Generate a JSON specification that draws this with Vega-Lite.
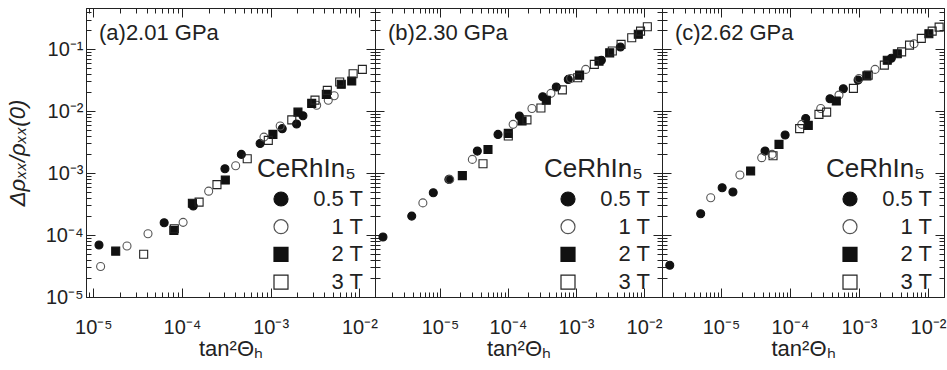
{
  "$schema": "https://vega.github.io/schema/vega-lite/v6.json",
  "padding": {"left": 5, "top": 7, "right": 0, "bottom": 0},
  "background": "white",
  "spacing": 0,
  "bounds": "flush",
  "config": {
    "font": "Liberation Sans",
    "view": {"stroke": "#222", "strokeWidth": 1},
    "axis": {"grid": false, "domainColor": "#222", "domainWidth": 1, "tickColor": "#222", "tickWidth": 1, "labelColor": "#222", "labelFont": "Liberation Sans", "titleFont": "Liberation Sans", "titleFontSize": 22, "titleFontWeight": "normal", "titleColor": "#222", "labelOverlap": false, "labelFlush": false, "labelBound": false, "minExtent": 0},
    "legend": {"orient": "none", "legendY": 148, "padding": 0, "titleFontSize": 26, "titleFontWeight": "normal", "titleColor": "#222", "titleAnchor": "start", "labelFontSize": 22, "labelColor": "#222", "symbolSize": 196, "symbolStrokeWidth": 1.2, "labelAlign": "right", "labelOffset": 71, "rowPadding": 5.7, "titlePadding": 6, "symbolOffset": 13}
  },
  "datasets": {
    "pts": [
      {"p": "a", "B": "0.5 T", "x": 1.16e-5, "y": 6.9e-5},
      {"p": "a", "B": "0.5 T", "x": 6.3e-5, "y": 1.58e-4},
      {"p": "a", "B": "0.5 T", "x": 1.34e-4, "y": 2.94e-4},
      {"p": "a", "B": "0.5 T", "x": 3.05e-4, "y": 1.17e-3},
      {"p": "a", "B": "0.5 T", "x": 4.67e-4, "y": 2.0e-3},
      {"p": "a", "B": "0.5 T", "x": 7.6e-4, "y": 3.0e-3},
      {"p": "a", "B": "0.5 T", "x": 1.35e-3, "y": 5.2e-3},
      {"p": "a", "B": "0.5 T", "x": 1.96e-3, "y": 6.2e-3},
      {"p": "a", "B": "0.5 T", "x": 2.31e-3, "y": 8.4e-3},
      {"p": "a", "B": "1 T", "x": 1.21e-5, "y": 3.1e-5},
      {"p": "a", "B": "1 T", "x": 2.4e-5, "y": 6.65e-5},
      {"p": "a", "B": "1 T", "x": 4.14e-5, "y": 1.05e-4},
      {"p": "a", "B": "1 T", "x": 1.03e-4, "y": 1.6e-4},
      {"p": "a", "B": "1 T", "x": 2.0e-4, "y": 5.1e-4},
      {"p": "a", "B": "1 T", "x": 4.03e-4, "y": 1.31e-3},
      {"p": "a", "B": "1 T", "x": 8.4e-4, "y": 3.8e-3},
      {"p": "a", "B": "1 T", "x": 1.28e-3, "y": 5.75e-3},
      {"p": "a", "B": "1 T", "x": 3.3e-3, "y": 1.24e-2},
      {"p": "a", "B": "1 T", "x": 4.46e-3, "y": 1.49e-2},
      {"p": "a", "B": "1 T", "x": 5.2e-3, "y": 1.77e-2},
      {"p": "a", "B": "2 T", "x": 1.79e-5, "y": 5.5e-5},
      {"p": "a", "B": "2 T", "x": 8.1e-5, "y": 1.19e-4},
      {"p": "a", "B": "2 T", "x": 1.31e-4, "y": 3.25e-4},
      {"p": "a", "B": "2 T", "x": 3.08e-4, "y": 7.7e-4},
      {"p": "a", "B": "2 T", "x": 1.06e-3, "y": 4.2e-3},
      {"p": "a", "B": "2 T", "x": 2.03e-3, "y": 9.6e-3},
      {"p": "a", "B": "2 T", "x": 2.9e-3, "y": 1.33e-2},
      {"p": "a", "B": "2 T", "x": 4.24e-3, "y": 1.86e-2},
      {"p": "a", "B": "2 T", "x": 6.25e-3, "y": 2.7e-2},
      {"p": "a", "B": "2 T", "x": 8.2e-3, "y": 3.05e-2},
      {"p": "a", "B": "3 T", "x": 3.7e-5, "y": 4.9e-5},
      {"p": "a", "B": "3 T", "x": 8.2e-5, "y": 1.26e-4},
      {"p": "a", "B": "3 T", "x": 1.56e-4, "y": 3.4e-4},
      {"p": "a", "B": "3 T", "x": 2.48e-4, "y": 6.5e-4},
      {"p": "a", "B": "3 T", "x": 5.44e-4, "y": 1.7e-3},
      {"p": "a", "B": "3 T", "x": 9.4e-4, "y": 3.37e-3},
      {"p": "a", "B": "3 T", "x": 1.73e-3, "y": 7.2e-3},
      {"p": "a", "B": "3 T", "x": 3.16e-3, "y": 1.5e-2},
      {"p": "a", "B": "3 T", "x": 4.35e-3, "y": 2.16e-2},
      {"p": "a", "B": "3 T", "x": 6.0e-3, "y": 2.94e-2},
      {"p": "a", "B": "3 T", "x": 8.5e-3, "y": 4.0e-2},
      {"p": "a", "B": "3 T", "x": 1.08e-2, "y": 4.7e-2},

      {"p": "b", "B": "0.5 T", "x": 1.45e-6, "y": 9.3e-5},
      {"p": "b", "B": "0.5 T", "x": 3.84e-6, "y": 2.02e-4},
      {"p": "b", "B": "0.5 T", "x": 7.97e-6, "y": 4.8e-4},
      {"p": "b", "B": "0.5 T", "x": 1.35e-5, "y": 7.9e-4},
      {"p": "b", "B": "0.5 T", "x": 3.54e-5, "y": 2.26e-3},
      {"p": "b", "B": "0.5 T", "x": 7.13e-5, "y": 4.2e-3},
      {"p": "b", "B": "0.5 T", "x": 1.47e-4, "y": 8.3e-3},
      {"p": "b", "B": "0.5 T", "x": 3.24e-4, "y": 1.7e-2},
      {"p": "b", "B": "0.5 T", "x": 5.13e-4, "y": 2.44e-2},
      {"p": "b", "B": "0.5 T", "x": 7.7e-4, "y": 3.24e-2},
      {"p": "b", "B": "0.5 T", "x": 2.36e-3, "y": 6.6e-2},
      {"p": "b", "B": "0.5 T", "x": 4.5e-3, "y": 0.108},
      {"p": "b", "B": "1 T", "x": 5.6e-6, "y": 3.3e-4},
      {"p": "b", "B": "1 T", "x": 1.39e-5, "y": 7.9e-4},
      {"p": "b", "B": "1 T", "x": 2.99e-5, "y": 1.66e-3},
      {"p": "b", "B": "1 T", "x": 1.19e-4, "y": 6.1e-3},
      {"p": "b", "B": "1 T", "x": 2.25e-4, "y": 1.1e-2},
      {"p": "b", "B": "1 T", "x": 4.28e-4, "y": 1.93e-2},
      {"p": "b", "B": "1 T", "x": 8.35e-4, "y": 3.36e-2},
      {"p": "b", "B": "1 T", "x": 1.39e-3, "y": 4.7e-2},
      {"p": "b", "B": "2 T", "x": 2.13e-5, "y": 9.1e-4},
      {"p": "b", "B": "2 T", "x": 5.08e-5, "y": 2.4e-3},
      {"p": "b", "B": "2 T", "x": 1.01e-4, "y": 4.37e-3},
      {"p": "b", "B": "2 T", "x": 1.61e-4, "y": 6.9e-3},
      {"p": "b", "B": "2 T", "x": 3.66e-4, "y": 1.49e-2},
      {"p": "b", "B": "2 T", "x": 1.13e-3, "y": 3.8e-2},
      {"p": "b", "B": "2 T", "x": 2.18e-3, "y": 6.4e-2},
      {"p": "b", "B": "2 T", "x": 3.13e-3, "y": 8.7e-2},
      {"p": "b", "B": "2 T", "x": 8.25e-3, "y": 0.173},
      {"p": "b", "B": "3 T", "x": 4.29e-5, "y": 1.41e-3},
      {"p": "b", "B": "3 T", "x": 1.01e-4, "y": 3.96e-3},
      {"p": "b", "B": "3 T", "x": 1.9e-4, "y": 7.2e-3},
      {"p": "b", "B": "3 T", "x": 3.05e-4, "y": 1.12e-2},
      {"p": "b", "B": "3 T", "x": 6.3e-4, "y": 2.2e-2},
      {"p": "b", "B": "3 T", "x": 1.06e-3, "y": 3.44e-2},
      {"p": "b", "B": "3 T", "x": 1.86e-3, "y": 5.66e-2},
      {"p": "b", "B": "3 T", "x": 3.42e-3, "y": 9.3e-2},
      {"p": "b", "B": "3 T", "x": 4.6e-3, "y": 0.119},
      {"p": "b", "B": "3 T", "x": 6.6e-3, "y": 0.152},
      {"p": "b", "B": "3 T", "x": 8.9e-3, "y": 0.195},
      {"p": "b", "B": "3 T", "x": 1.12e-2, "y": 0.229},

      {"p": "c", "B": "0.5 T", "x": 1.81e-6, "y": 3.25e-5},
      {"p": "c", "B": "0.5 T", "x": 5.08e-6, "y": 2.2e-4},
      {"p": "c", "B": "0.5 T", "x": 1.04e-5, "y": 5.8e-4},
      {"p": "c", "B": "0.5 T", "x": 1.49e-5, "y": 4.94e-4},
      {"p": "c", "B": "0.5 T", "x": 4.35e-5, "y": 2.26e-3},
      {"p": "c", "B": "0.5 T", "x": 8.5e-5, "y": 4.1e-3},
      {"p": "c", "B": "0.5 T", "x": 1.69e-4, "y": 7.6e-3},
      {"p": "c", "B": "0.5 T", "x": 3.8e-4, "y": 1.58e-2},
      {"p": "c", "B": "0.5 T", "x": 5.93e-4, "y": 2.29e-2},
      {"p": "c", "B": "0.5 T", "x": 9.7e-4, "y": 3.16e-2},
      {"p": "c", "B": "0.5 T", "x": 2.94e-3, "y": 7.1e-2},
      {"p": "c", "B": "1 T", "x": 7.1e-6, "y": 4.0e-4},
      {"p": "c", "B": "1 T", "x": 1.88e-5, "y": 9.3e-4},
      {"p": "c", "B": "1 T", "x": 3.89e-5, "y": 1.77e-3},
      {"p": "c", "B": "1 T", "x": 5.5e-5, "y": 2.0e-3},
      {"p": "c", "B": "1 T", "x": 1.48e-4, "y": 6.1e-3},
      {"p": "c", "B": "1 T", "x": 2.79e-4, "y": 1.1e-2},
      {"p": "c", "B": "1 T", "x": 5.13e-4, "y": 1.81e-2},
      {"p": "c", "B": "1 T", "x": 1.0e-3, "y": 3.36e-2},
      {"p": "c", "B": "1 T", "x": 1.71e-3, "y": 4.7e-2},
      {"p": "c", "B": "1 T", "x": 6.27e-3, "y": 0.122},
      {"p": "c", "B": "2 T", "x": 2.69e-5, "y": 1.08e-3},
      {"p": "c", "B": "2 T", "x": 6.93e-5, "y": 2.9e-3},
      {"p": "c", "B": "2 T", "x": 1.84e-4, "y": 5.87e-3},
      {"p": "c", "B": "2 T", "x": 4.69e-4, "y": 1.45e-2},
      {"p": "c", "B": "2 T", "x": 1.3e-3, "y": 3.7e-2},
      {"p": "c", "B": "2 T", "x": 2.57e-3, "y": 6.6e-2},
      {"p": "c", "B": "2 T", "x": 3.59e-3, "y": 8.4e-2},
      {"p": "c", "B": "2 T", "x": 1.03e-2, "y": 0.177},
      {"p": "c", "B": "3 T", "x": 5.68e-5, "y": 1.9e-3},
      {"p": "c", "B": "3 T", "x": 1.38e-4, "y": 5.2e-3},
      {"p": "c", "B": "3 T", "x": 2.63e-4, "y": 8.85e-3},
      {"p": "c", "B": "3 T", "x": 3.4e-4, "y": 9.6e-3},
      {"p": "c", "B": "3 T", "x": 8.3e-4, "y": 2.32e-2},
      {"p": "c", "B": "3 T", "x": 1.36e-3, "y": 3.8e-2},
      {"p": "c", "B": "3 T", "x": 2.33e-3, "y": 5.5e-2},
      {"p": "c", "B": "3 T", "x": 4.15e-3, "y": 9.0e-2},
      {"p": "c", "B": "3 T", "x": 5.4e-3, "y": 0.116},
      {"p": "c", "B": "3 T", "x": 8.0e-3, "y": 0.149},
      {"p": "c", "B": "3 T", "x": 1.15e-2, "y": 0.195},
      {"p": "c", "B": "3 T", "x": 1.45e-2, "y": 0.226}
    ]
  },
  "resolve": {
    "scale": {"shape": "independent", "fill": "independent", "stroke": "independent"},
    "legend": {"shape": "independent", "fill": "independent", "stroke": "independent"}
  },
  "hconcat": [
    {
      "width": 289, "height": 289,
      "resolve": {"axis": {"x": "independent", "y": "independent"}},
      "layer": [
        {
          "data": {"name": "pts"},
          "transform": [{"filter": "datum.p == 'a'"}],
          "mark": {"type": "point", "filled": true, "opacity": 1, "size": 64, "strokeWidth": 1.1},
          "encoding": {
            "x": {"field": "x", "type": "quantitative", "scale": {"type": "log", "domain": [8.28e-6, 0.015], "nice": false}, "axis": {"orient": "bottom", "title": "tan²Θₕ", "tickCount": 30, "tickSize": {"condition": {"test": "abs(log(datum.value)/LN10-round(log(datum.value)/LN10))<0.01", "value": -9}, "value": -5}, "labelFontSize": {"condition": {"test": "abs(log(datum.value)/LN10-round(log(datum.value)/LN10))>0.01", "value": 0}, "value": 20}, "labelPadding": 29, "titlePadding": 1, "labelExpr": "abs(log(datum.value)/LN10-round(log(datum.value)/LN10))>0.01?'':round(log(datum.value)/LN10)==-1?'10⁻¹':round(log(datum.value)/LN10)==-2?'10⁻²':round(log(datum.value)/LN10)==-3?'10⁻³':round(log(datum.value)/LN10)==-4?'10⁻⁴':round(log(datum.value)/LN10)==-5?'10⁻⁵':'10⁻⁶'"}},
            "y": {"field": "y", "type": "quantitative", "scale": {"type": "log", "domain": [1e-5, 0.46], "nice": false}, "axis": {"orient": "left", "title": "Δρₓₓ/ρₓₓ(0)", "titleFontStyle": "italic", "tickCount": 30, "tickSize": {"condition": {"test": "abs(log(datum.value)/LN10-round(log(datum.value)/LN10))<0.01", "value": -9}, "value": -5}, "labelFontSize": {"condition": {"test": "abs(log(datum.value)/LN10-round(log(datum.value)/LN10))>0.01", "value": 0}, "value": 20}, "labelPadding": 12, "titlePadding": 16, "labelExpr": "abs(log(datum.value)/LN10-round(log(datum.value)/LN10))>0.01?'':round(log(datum.value)/LN10)==-1?'10⁻¹':round(log(datum.value)/LN10)==-2?'10⁻²':round(log(datum.value)/LN10)==-3?'10⁻³':round(log(datum.value)/LN10)==-4?'10⁻⁴':round(log(datum.value)/LN10)==-5?'10⁻⁵':'10⁻⁶'"}},
            "shape": {"field": "B", "type": "nominal", "title": "CeRhIn₅", "legend": {"legendX": 171}, "scale": {"domain": ["0.5 T", "1 T", "2 T", "3 T"], "range": ["circle", "circle", "square", "square"]}},
            "fill": {"field": "B", "type": "nominal", "title": "CeRhIn₅", "legend": {"legendX": 171}, "scale": {"domain": ["0.5 T", "1 T", "2 T", "3 T"], "range": ["#111111", "transparent", "#111111", "transparent"]}},
            "stroke": {"field": "B", "type": "nominal", "title": "CeRhIn₅", "legend": {"legendX": 171}, "scale": {"domain": ["0.5 T", "1 T", "2 T", "3 T"], "range": ["#111111", "#555555", "#111111", "#222222"]}}
          }
        },
        {
          "data": {"name": "pts"},
          "transform": [{"filter": "datum.p == 'a'"}],
          "mark": {"type": "point", "opacity": 0},
          "encoding": {
            "x": {"field": "x", "type": "quantitative", "scale": {"type": "log", "domain": [8.28e-6, 0.015], "nice": false}, "axis": {"orient": "top", "labels": false, "title": null, "tickCount": 30, "tickSize": {"condition": {"test": "abs(log(datum.value)/LN10-round(log(datum.value)/LN10))<0.01", "value": -9}, "value": -5}}},
            "y": {"field": "y", "type": "quantitative", "scale": {"type": "log", "domain": [1e-5, 0.46], "nice": false}, "axis": {"orient": "right", "labels": false, "title": null, "tickCount": 30, "tickSize": {"condition": {"test": "abs(log(datum.value)/LN10-round(log(datum.value)/LN10))<0.01", "value": -9}, "value": -5}}}
          }
        },
        {
          "data": {"values": [{"label": "(a)2.01 GPa"}]},
          "mark": {"type": "text", "align": "left", "baseline": "alphabetic", "fontSize": 22, "font": "Liberation Sans", "color": "#222"},
          "encoding": {
            "x": {"datum": 1.16e-5, "type": "quantitative", "axis": null},
            "y": {"datum": 0.14, "type": "quantitative", "axis": null},
            "text": {"field": "label"}
          }
        }
      ]
    },
    {
      "width": 287, "height": 289,
      "resolve": {"axis": {"x": "independent", "y": "independent"}},
      "layer": [
        {
          "data": {"name": "pts"},
          "transform": [{"filter": "datum.p == 'b'"}],
          "mark": {"type": "point", "filled": true, "opacity": 1, "size": 64, "strokeWidth": 1.1},
          "encoding": {
            "x": {"field": "x", "type": "quantitative", "scale": {"type": "log", "domain": [1.107e-6, 0.0184], "nice": false}, "axis": {"orient": "bottom", "title": "tan²Θₕ", "tickCount": 30, "tickSize": {"condition": {"test": "abs(log(datum.value)/LN10-round(log(datum.value)/LN10))<0.01", "value": -9}, "value": -5}, "labelFontSize": {"condition": {"test": "abs(log(datum.value)/LN10-round(log(datum.value)/LN10))>0.01", "value": 0}, "value": 20}, "labelPadding": 29, "titlePadding": 1, "labelExpr": "abs(log(datum.value)/LN10-round(log(datum.value)/LN10))>0.01?'':round(log(datum.value)/LN10)==-1?'10⁻¹':round(log(datum.value)/LN10)==-2?'10⁻²':round(log(datum.value)/LN10)==-3?'10⁻³':round(log(datum.value)/LN10)==-4?'10⁻⁴':round(log(datum.value)/LN10)==-5?'10⁻⁵':'10⁻⁶'"}},
            "y": {"field": "y", "type": "quantitative", "scale": {"type": "log", "domain": [1e-5, 0.46], "nice": false}, "axis": {"orient": "left", "labels": false, "title": null, "tickCount": 30, "tickSize": {"condition": {"test": "abs(log(datum.value)/LN10-round(log(datum.value)/LN10))<0.01", "value": -9}, "value": -5}}},
            "shape": {"field": "B", "type": "nominal", "title": "CeRhIn₅", "legend": {"legendX": 169}, "scale": {"domain": ["0.5 T", "1 T", "2 T", "3 T"], "range": ["circle", "circle", "square", "square"]}},
            "fill": {"field": "B", "type": "nominal", "title": "CeRhIn₅", "legend": {"legendX": 169}, "scale": {"domain": ["0.5 T", "1 T", "2 T", "3 T"], "range": ["#111111", "transparent", "#111111", "transparent"]}},
            "stroke": {"field": "B", "type": "nominal", "title": "CeRhIn₅", "legend": {"legendX": 169}, "scale": {"domain": ["0.5 T", "1 T", "2 T", "3 T"], "range": ["#111111", "#555555", "#111111", "#222222"]}}
          }
        },
        {
          "data": {"name": "pts"},
          "transform": [{"filter": "datum.p == 'b'"}],
          "mark": {"type": "point", "opacity": 0},
          "encoding": {
            "x": {"field": "x", "type": "quantitative", "scale": {"type": "log", "domain": [1.107e-6, 0.0184], "nice": false}, "axis": {"orient": "top", "labels": false, "title": null, "tickCount": 30, "tickSize": {"condition": {"test": "abs(log(datum.value)/LN10-round(log(datum.value)/LN10))<0.01", "value": -9}, "value": -5}}},
            "y": {"field": "y", "type": "quantitative", "scale": {"type": "log", "domain": [1e-5, 0.46], "nice": false}, "axis": {"orient": "right", "labels": false, "title": null, "tickCount": 30, "tickSize": {"condition": {"test": "abs(log(datum.value)/LN10-round(log(datum.value)/LN10))<0.01", "value": -9}, "value": -5}}}
          }
        },
        {
          "data": {"values": [{"label": "(b)2.30 GPa"}]},
          "mark": {"type": "text", "align": "left", "baseline": "alphabetic", "fontSize": 22, "font": "Liberation Sans", "color": "#222"},
          "encoding": {
            "x": {"datum": 1.72e-6, "type": "quantitative", "axis": null},
            "y": {"datum": 0.14, "type": "quantitative", "axis": null},
            "text": {"field": "label"}
          }
        }
      ]
    },
    {
      "width": 282, "height": 289,
      "resolve": {"axis": {"x": "independent", "y": "independent"}},
      "layer": [
        {
          "data": {"name": "pts"},
          "transform": [{"filter": "datum.p == 'c'"}],
          "mark": {"type": "point", "filled": true, "opacity": 1, "size": 64, "strokeWidth": 1.1},
          "encoding": {
            "x": {"field": "x", "type": "quantitative", "scale": {"type": "log", "domain": [1.397e-6, 0.01706], "nice": false}, "axis": {"orient": "bottom", "title": "tan²Θₕ", "tickCount": 30, "tickSize": {"condition": {"test": "abs(log(datum.value)/LN10-round(log(datum.value)/LN10))<0.01", "value": -9}, "value": -5}, "labelFontSize": {"condition": {"test": "abs(log(datum.value)/LN10-round(log(datum.value)/LN10))>0.01", "value": 0}, "value": 20}, "labelPadding": 29, "titlePadding": 1, "labelExpr": "abs(log(datum.value)/LN10-round(log(datum.value)/LN10))>0.01?'':round(log(datum.value)/LN10)==-1?'10⁻¹':round(log(datum.value)/LN10)==-2?'10⁻²':round(log(datum.value)/LN10)==-3?'10⁻³':round(log(datum.value)/LN10)==-4?'10⁻⁴':round(log(datum.value)/LN10)==-5?'10⁻⁵':'10⁻⁶'"}},
            "y": {"field": "y", "type": "quantitative", "scale": {"type": "log", "domain": [1e-5, 0.46], "nice": false}, "axis": {"orient": "left", "labels": false, "title": null, "tickCount": 30, "tickSize": {"condition": {"test": "abs(log(datum.value)/LN10-round(log(datum.value)/LN10))<0.01", "value": -9}, "value": -5}}},
            "shape": {"field": "B", "type": "nominal", "title": "CeRhIn₅", "legend": {"legendX": 164}, "scale": {"domain": ["0.5 T", "1 T", "2 T", "3 T"], "range": ["circle", "circle", "square", "square"]}},
            "fill": {"field": "B", "type": "nominal", "title": "CeRhIn₅", "legend": {"legendX": 164}, "scale": {"domain": ["0.5 T", "1 T", "2 T", "3 T"], "range": ["#111111", "transparent", "#111111", "transparent"]}},
            "stroke": {"field": "B", "type": "nominal", "title": "CeRhIn₅", "legend": {"legendX": 164}, "scale": {"domain": ["0.5 T", "1 T", "2 T", "3 T"], "range": ["#111111", "#555555", "#111111", "#222222"]}}
          }
        },
        {
          "data": {"name": "pts"},
          "transform": [{"filter": "datum.p == 'c'"}],
          "mark": {"type": "point", "opacity": 0},
          "encoding": {
            "x": {"field": "x", "type": "quantitative", "scale": {"type": "log", "domain": [1.397e-6, 0.01706], "nice": false}, "axis": {"orient": "top", "labels": false, "title": null, "tickCount": 30, "tickSize": {"condition": {"test": "abs(log(datum.value)/LN10-round(log(datum.value)/LN10))<0.01", "value": -9}, "value": -5}}},
            "y": {"field": "y", "type": "quantitative", "scale": {"type": "log", "domain": [1e-5, 0.46], "nice": false}, "axis": {"orient": "right", "labels": false, "title": null, "tickCount": 30, "tickSize": {"condition": {"test": "abs(log(datum.value)/LN10-round(log(datum.value)/LN10))<0.01", "value": -9}, "value": -5}}}
          }
        },
        {
          "data": {"values": [{"label": "(c)2.62 GPa"}]},
          "mark": {"type": "text", "align": "left", "baseline": "alphabetic", "fontSize": 22, "font": "Liberation Sans", "color": "#222"},
          "encoding": {
            "x": {"datum": 2.15e-6, "type": "quantitative", "axis": null},
            "y": {"datum": 0.14, "type": "quantitative", "axis": null},
            "text": {"field": "label"}
          }
        }
      ]
    }
  ]
}
